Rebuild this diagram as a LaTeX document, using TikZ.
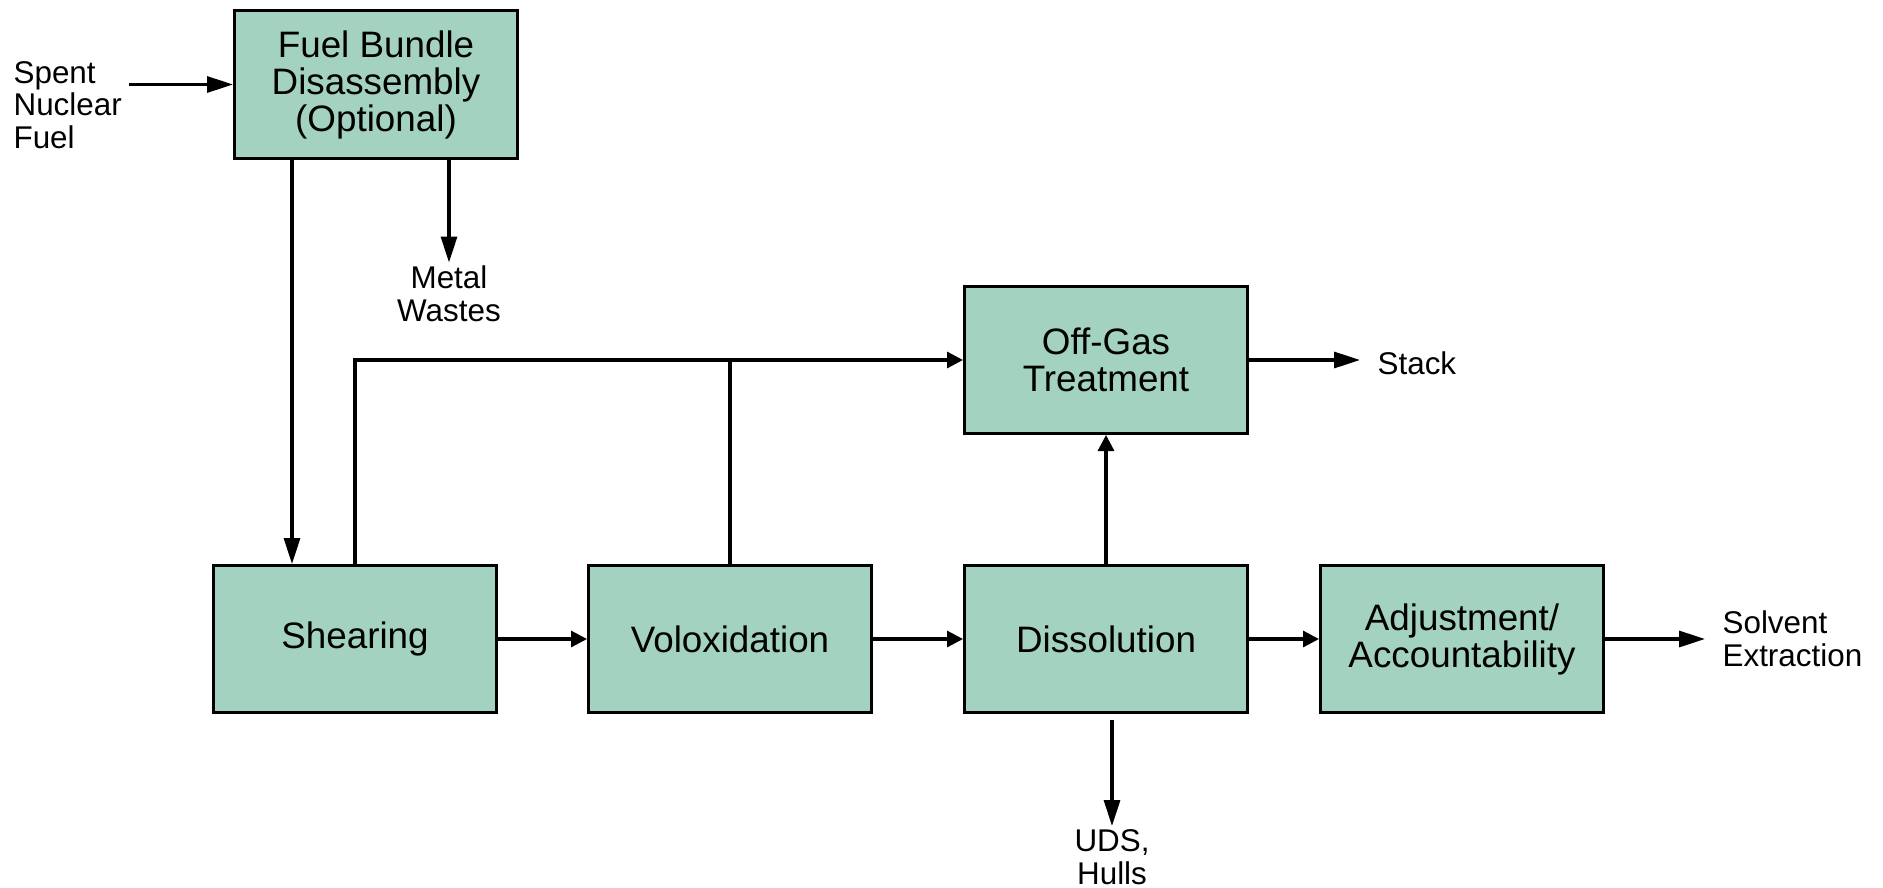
\documentclass[tikz,border=0pt]{standalone}
\usepackage{fontspec}
\setsansfont{Liberation Sans}
\usetikzlibrary{arrows.meta,positioning}
\definecolor{unitgreen}{RGB}{163,211,192}

\begin{document}
\begin{tikzpicture}[x=0.5pt,y=-0.5pt,font=\sffamily,line width=1.6pt,>={Triangle[length=8pt,width=8pt]}]
  \tikzstyle{unit}=[draw,fill=unitgreen,line width=1.4pt,minimum width=141.6pt,minimum height=73.6pt,align=center,font=\sffamily\fontsize{18.4}{18.5}\selectfont]
  \tikzstyle{lbl}=[inner sep=1pt,align=center,font=\sffamily\fontsize{15.7}{16.4}\selectfont]
  \tikzstyle{outflow}=[-{Triangle[length=13pt,width=8pt]}]
  \useasboundingbox (0,0) rectangle (1883,888);
  % main process line
  \node[unit] (shear) at (355,639) {Shearing};
  \node[unit,right=44.5pt of shear] (volox) {Voloxidation};
  \node[unit,right=45pt of volox] (dissol) {Dissolution};
  \node[unit,right=35pt of dissol] (adjust) {Adjustment/\\Accountability};
  \node[unit,above=64.5pt of dissol] (offgas) {Off-Gas\\Treatment};
  \node[unit] (fbd) at (376,84.5) {Fuel Bundle\\Disassembly\\(Optional)};
  % streams in and out
  \node[lbl,align=left,anchor=west] (spent) at (10,105) {Spent\\Nuclear\\Fuel};
  \node[lbl,below=51.5pt of fbd.south,xshift=36.5pt] (metal) {Metal\\Wastes};
  \node[lbl,right=62.5pt of offgas,yshift=-1.5pt] (stack) {Stack};
  \node[lbl,align=left,right=57pt of adjust] (solvent) {Solvent\\Extraction};
  \node[lbl,below=56pt of dissol,xshift=3pt] (uds) {UDS,\\Hulls};
  \draw[outflow,shorten <=2pt] (spent.east |- fbd.west) -- (fbd.west);
  \draw[outflow] ([xshift=-31.5pt]shear.north |- fbd.south) -- ([xshift=-31.5pt]shear.north);
  \draw[outflow] (fbd.south -| metal) -- (metal.north);
  \draw[->] (shear.north) |- (offgas.west);
  \draw (volox.north) -- (volox.north |- offgas.west);
  \draw[->] (dissol) -- (offgas);
  \draw[outflow,shorten >=7pt] (offgas.east) -- (stack.west |- offgas.east);
  \draw[->] (shear) -- (volox);
  \draw[->] (volox) -- (dissol);
  \draw[->] (dissol) -- (adjust);
  \draw[outflow,shorten >=7pt] (adjust) -- (solvent.west);
  \draw[outflow,shorten <=3pt] (dissol.south -| uds) -- (uds.north);
\end{tikzpicture}
\end{document}
